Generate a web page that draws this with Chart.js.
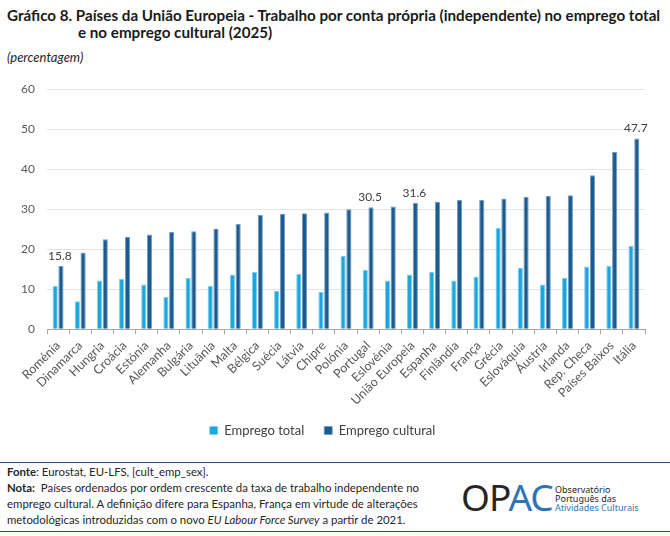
<!DOCTYPE html>
<html>
<head>
<meta charset="utf-8">
<script src="https://cdn.jsdelivr.net/npm/chart.js@4.4.1/dist/chart.umd.min.js"></script>
<style>
  html, body { margin:0; padding:0; background:#fff; }
  body { width:670px; height:536px; position:relative; overflow:hidden; font-family: Lato, "Open Sans", sans-serif; color:#262626; }
  #title { position:absolute; left:7px; top:7px; font-weight:bold; font-size:15.2px; line-height:17px; color:#1a1a1a; white-space:nowrap; }
  #title .l2 { display:block; padding-left:71px; }
  #sub { position:absolute; left:7px; top:49px; font-style:italic; font-size:13px; color:#262626; }
  #wrap { position:absolute; left:0; top:70px; width:670px; height:377px; }
  #footer { position:absolute; left:0; top:462px; width:670px; height:68px; border-top:1.5px solid #1f4e79; border-bottom:1.5px solid #1f4e79; }
  #ftext { position:absolute; left:7px; top:1px; font-size:11.4px; line-height:16px; color:#262626; white-space:nowrap; }
  #logo { position:absolute; left:461px; top:14px; height:40px; }
  #opac { position:absolute; left:0; top:0; font-size:37px; line-height:40px; font-family: "Noto Sans", sans-serif; letter-spacing:-1px; }
  #opac .b { color:#2e75b6; }
  #ltxt { position:absolute; left:94px; top:8px; font-size:9px; line-height:9px; font-family:"Noto Sans", sans-serif; color:#262626; white-space:nowrap; }
  #ltxt .b { color:#2e75b6; }
</style>
</head>
<body>
<div id="title">Gráfico 8. Países da União Europeia - Trabalho por conta própria (independente) no emprego total<span class="l2">e no emprego cultural (2025)</span></div>
<div id="sub">(percentagem)</div>
<div id="wrap"><canvas id="c"></canvas></div>
<div id="footer">
  <div id="ftext"><b>Fonte</b>: Eurostat, EU-LFS, [cult_emp_sex].<br><b>Nota:</b>&nbsp; Países ordenados por ordem crescente da taxa de trabalho independente no<br>emprego cultural. A definição difere para Espanha, França em virtude de alterações<br>metodológicas introduzidas com o novo <i>EU Labour Force Survey</i> a partir de 2021.</div>
  <div id="logo"><div id="opac">OP<span class="b">AC</span></div><div id="ltxt">Observatório<br>Português das<br><span class="b">Atividades Culturais</span></div></div>
</div>
<script>
const categories = ['Roménia','Dinamarca','Hungria','Croácia','Estónia','Alemanha','Bulgária','Lituânia','Malta','Bélgica','Suécia','Látvia','Chipre','Polónia','Portugal','Eslovénia','União Europeia','Espanha','Finlândia','França','Grécia','Eslováquia','Áustria','Irlanda','Rep. Checa','Países Baixos','Itália'];
const empregoTotal = [10.9, 7.0, 12.2, 12.6, 11.2, 8.1, 12.8, 10.9, 13.7, 14.4, 9.6, 13.9, 9.4, 18.4, 14.9, 12.2, 13.7, 14.4, 12.2, 13.2, 25.3, 15.4, 11.2, 12.9, 15.7, 15.9, 20.9];
const empregoCultural = [15.8, 19.2, 22.5, 23.1, 23.7, 24.3, 24.5, 25.2, 26.3, 28.6, 28.9, 29.0, 29.2, 30.0, 30.5, 30.7, 31.6, 31.9, 32.3, 32.3, 32.7, 33.1, 33.3, 33.5, 38.5, 44.3, 47.7];
const labeledCategories = ['Roménia','Portugal','União Europeia','Itália'];
const seriesNames = ['Emprego total','Emprego cultural'];
const yTicks = [0,10,20,30,40,50,60];

const labelPlugin = {
  id:'vals',
  afterDatasetsDraw(chart){
    const ctx = chart.ctx;
    const meta = chart.getDatasetMeta(1);
    ctx.save();
    ctx.font = '12px Lato, sans-serif';
    ctx.fillStyle = '#404040';
    ctx.textAlign = 'center';
    ctx.textBaseline = 'bottom';
    categories.forEach((c,i)=>{
      if(labeledCategories.includes(c)){
        const el = meta.data[i];
        ctx.fillText(empregoCultural[i].toFixed(1), el.x - 1, el.y - 4);
      }
    });
    ctx.restore();
  }
};

new Chart(document.getElementById('c'), {
  type:'bar',
  data:{
    labels: categories,
    datasets:[
      { label: seriesNames[0], data: empregoTotal, backgroundColor:'#1aa7df', borderColor:'#7fcdee', borderWidth:{top:1,left:1,right:1,bottom:0}, barPercentage:0.9, categoryPercentage:0.52 },
      { label: seriesNames[1], data: empregoCultural, backgroundColor:'#1b5b8f', borderColor:'#6f9cc0', borderWidth:{top:1,left:1,right:1,bottom:0}, barPercentage:0.9, categoryPercentage:0.52 }
    ]
  },
  options:{
    responsive:true, maintainAspectRatio:false, animation:false,
    layout:{ padding:{ left:0, right:25, top:19, bottom:0 } },
    plugins:{
      legend:{ position:'bottom', labels:{ boxWidth:8, boxHeight:8, padding:20, color:'#404040', font:{ family:'Lato', size:13 } } },
      tooltip:{ enabled:false }
    },
    scales:{
      x:{
        offset:true,
        afterFit(s){ s.height = s.height - 8; },
        grid:{ display:true, drawOnChartArea:false, drawTicks:true, tickLength:5, color:'#a6a6a6', offset:true },
        border:{ display:true, color:'#a6a6a6' },
        ticks:{ minRotation:45, maxRotation:45, color:'#595959', font:{ family:'Lato', size:12.5 }, padding:4, autoSkip:false }
      },
      y:{
        min:0, max:60,
        afterBuildTicks(s){ s.ticks = yTicks.map(v=>({value:v})); },
        afterFit(s){ s.width = 47; },
        grid:{ color:'#e3e3e3', drawTicks:false },
        border:{ display:false },
        ticks:{ color:'#595959', font:{ family:'Lato', size:12 }, padding:12 }
      }
    }
  },
  plugins:[labelPlugin]
});
</script>
</body>
</html>
